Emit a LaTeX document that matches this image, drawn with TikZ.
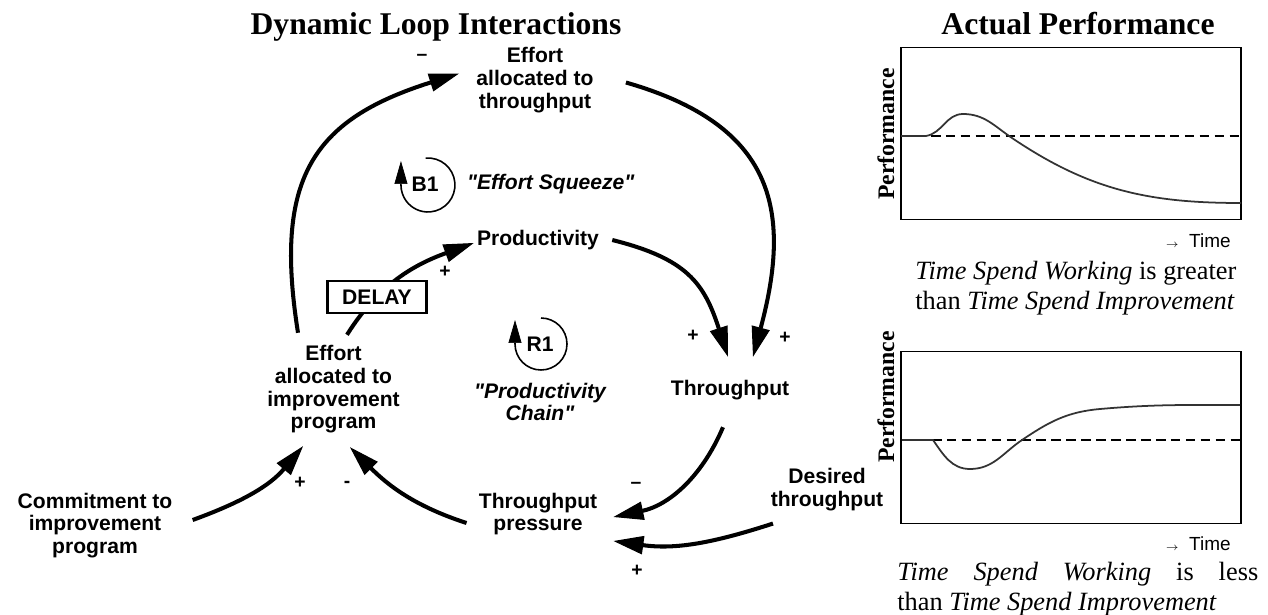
\documentclass[tikz,border=0pt]{standalone}
\usepackage{fontspec}
\setmainfont{Liberation Serif}
\setsansfont{Liberation Sans}
\usetikzlibrary{arrows.meta, positioning}

% straight double quote, kept out of the tex-text mapping
\newcommand\dq{\XeTeXglyph\XeTeXcharglyph"22\relax}

\tikzset{
        var/.style={font=\sffamily\bfseries\fontsize{12}{12.9}\selectfont, align=center, inner sep=0pt},
        link/.style={line width=2.3pt, -{Triangle[length=0.6cm, width=0.37cm, line width=0.6pt]}},
        sgn/.style={font=\sffamily\bfseries\fontsize{11}{11}\selectfont, inner sep=0pt},
        loopid/.style={font=\sffamily\bfseries\fontsize{12}{12}\selectfont, inner sep=0pt},
        loopname/.style={font=\sffamily\bfseries\itshape\fontsize{12}{12.9}\selectfont, align=center, inner sep=0pt},
        loopsym/.style={line width=0.9pt, -{Triangle[length=0.46cm, width=0.26cm, line width=0.4pt]}},
        delaybox/.style={draw, fill=white, line width=1.6pt, minimum width=1.98cm, minimum height=0.64cm,
                font=\sffamily\bfseries\fontsize{12}{12}\selectfont},
        heading/.style={font=\bfseries\fontsize{18}{18}\selectfont, inner sep=0pt, anchor=base},
        panel/.style={draw, line width=0.8pt, minimum width=6.8cm, minimum height=3.44cm, inner sep=0pt},
        ylab/.style={font=\bfseries\fontsize{13.5}{13.5}\selectfont, rotate=90, inner sep=0pt},
        tlab/.style={font=\sffamily\fontsize{10.8}{10.8}\selectfont, inner sep=0pt, anchor=base east},
        response/.style={line width=1pt, black!80},
        baseline/.style={dashed, dash pattern=on 5.5pt off 3pt, line width=0.7pt},
        caption/.style={font=\fontsize{15}{17}\selectfont, align=left, inner sep=0pt, anchor=north west},
}

\begin{document}
\begin{tikzpicture}[x=0.02cm, y=0.02cm]
        \useasboundingbox (0,0) rectangle (1268,-615);

        \node[heading] (H1) at (436,-35) {Dynamic Loop Interactions};
        \node[heading] (H2) at (1078,-35) {Actual Performance};

        % causal loop diagram
        \node[var] (Et) at (535,-80) {Effort\\allocated to\\throughput};
        \node[var] (Pr) at (538,-240) {Productivity};
        \node[var] (Th) at (730,-390.5) {Throughput};
        \node[var] (Ei) at (333.5,-389.5) {Effort\\allocated to\\improvement\\program};
        \node[var] (Tp) at (538,-514) {Throughput\\pressure};
        \node[var] (Dt) at (827,-489.5) {Desired\\throughput};
        \node[var] (Co) at (95,-525.5) {Commitment to\\improvement\\program};

        \draw[link] ([shift={(-35.5,12.5)}]Ei.north) to[out=99, in=197.5, looseness=1.3] ([shift={(-17,6.5)}]Et.west);
        \draw[link] ([shift={(32,-2.5)}]Et.east) to[out=-16, in=75, looseness=1.3] ([shift={(23,23.5)}]Th.north);
        \draw[link] ([shift={(13,0)}]Pr.east) to[out=-14, in=108, looseness=1.2] ([shift={(-2,23.5)}]Th.north);
        \draw[link] ([shift={(13.5,10.5)}]Ei.north) to[out=58, in=200] ([shift={(-3,-3)}]Pr.west);
        \node[delaybox] (D) at (377,-297) {DELAY};
        \draw[link] ([shift={(-7,-26.5)}]Th.south) to[out=-113, in=12] ([shift={(16,-3)}]Tp.east);
        \draw[link] ([shift={(2.5,-12.5)}]Dt.south west) to[out=198, in=-8] ([shift={(16,-27)}]Tp.east);
        \draw[link] ([shift={(-12,-9)}]Tp.west) to[out=162, in=-45] ([shift={(16.5,-13.5)}]Ei.south);
        \draw[link] ([shift={(20,5.5)}]Co.east) to[out=20, in=230] ([shift={(-30.5,-12.5)}]Ei.south);

        \node[sgn] (s1) at (422,-57) {--};
        \node[sgn] (s2) at (785,-338) {+};
        \node[sgn] (s3) at (693,-336) {+};
        \node[sgn] (s4) at (445,-272) {+};
        \node[sgn] (s5) at (636,-485) {--};
        \node[sgn] (s6) at (637,-571) {+};
        \node[sgn] (s7) at (347,-484) {-};
        \node[sgn] (s8) at (300,-483) {+};

        % loop markers
        \node[loopid] (B1) at (425,-184) {B1};
        \draw[loopsym] (425.6,-158.1) arc[start angle=95, end angle=-180, radius=27] -- ++(0,24);
        \node[loopname, right=0.56cm of B1] (B1n) {\dq Effort Squeeze\dq};
        \node[loopid] (R1) at (540,-344) {R1};
        \draw[loopsym] (541,-318) arc[start angle=90, end angle=-180, radius=26] -- ++(0,24);
        \node[loopname, below=0.62cm of R1] (R1n) {\dq Productivity\\Chain\dq};

        % behaviour over time
        \node[panel] (G1) at (1071,-133.5) {};
        \draw[baseline] (901,-136) -- (1241,-136);
        \draw[response] (901,-136) -- (926,-136) to[out=10, in=180] (963,-114) to[out=0, in=146] (1012,-138)
                to[out=-34, in=180] (1241,-203);
        \node[ylab] (Y1) at (886,-134) {Performance};
        \node[tlab] (T1) at (1231,-247) {{\fontsize{6}{6}\selectfont$\rightarrow$}\ \ Time};
        \node[caption] (C1) at (915,-261) {\textit{Time Spend Working} is greater\\than \textit{Time Spend Improvement}};

        \node[panel] (G2) at (1071,-437.5) {};
        \draw[baseline] (902,-440) -- (1240,-440);
        \draw[response] (902,-440) -- (933,-440) to[out=-55, in=180] (970,-469) to[out=0, in=214] (1022,-440)
                to[out=34, in=185] (1100,-409) to[out=5, in=180] (1240,-405);
        \node[ylab] (Y2) at (886,-397) {Performance};
        \node[tlab] (T2) at (1231,-550) {{\fontsize{6}{6}\selectfont$\rightarrow$}\ \ Time};
        \node[caption] (C2) at (897,-562) {\makebox[7.22cm][s]{\textit{Time Spend Working} is less}\\than \textit{Time Spend Improvement}};
\end{tikzpicture}
\end{document}
